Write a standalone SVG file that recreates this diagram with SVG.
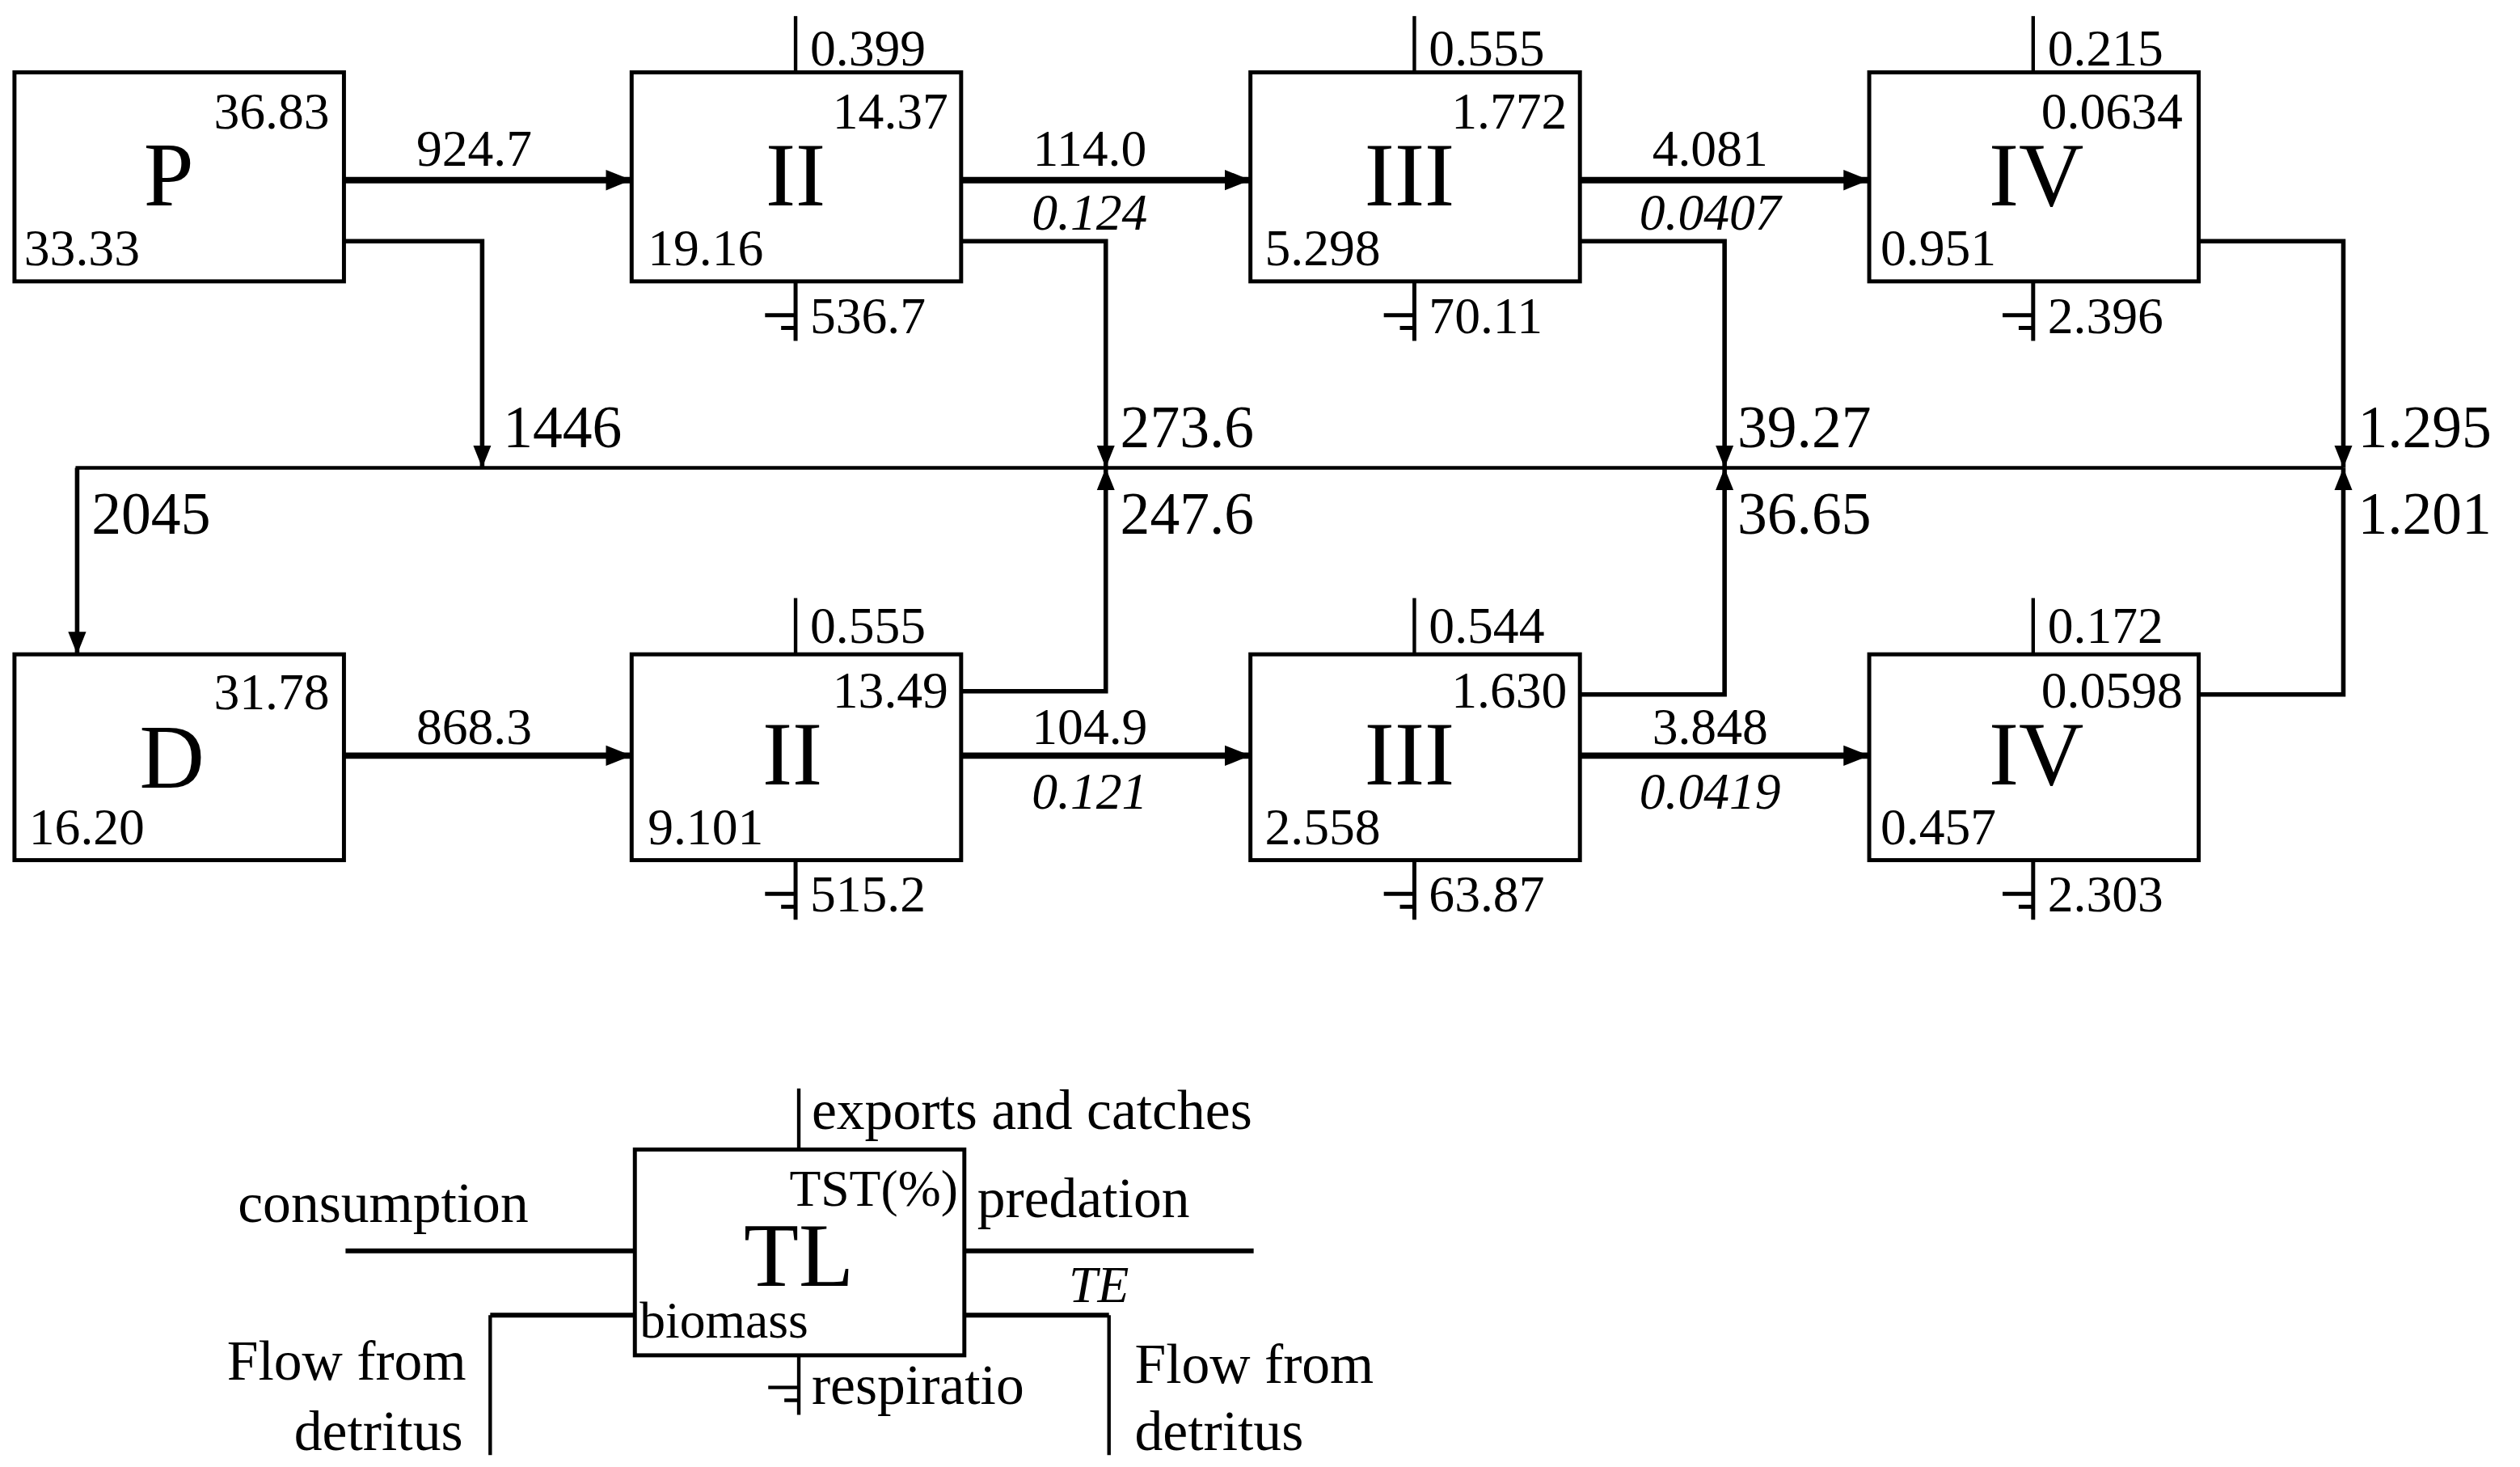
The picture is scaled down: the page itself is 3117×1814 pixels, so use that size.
<svg xmlns="http://www.w3.org/2000/svg" width="3117" height="1814" viewBox="0 0 3117 1814">
<defs>
<marker id="ah" viewBox="0 0 10 10" refX="10" refY="5" markerWidth="4" markerHeight="4" orient="auto" markerUnits="strokeWidth"><path d="M0,1 L10,5 L0,9 z" fill="#000"/></marker>
<marker id="ah2" viewBox="0 0 10 10" refX="10" refY="5" markerWidth="5" markerHeight="6" orient="auto" markerUnits="strokeWidth"><path d="M0,1 L10,5 L0,9 z" fill="#000"/></marker>
</defs>
<style>
text{font-family:"Liberation Serif","Times New Roman",serif;fill:#000}
.n{font-size:32px}
.m{font-size:37px}
.b{font-size:56px;text-anchor:middle}
.i{font-style:italic}
.e{text-anchor:end}
.c{text-anchor:middle}
.box{fill:#fff;stroke:#000;stroke-width:2.5}
.th{stroke:#000;stroke-width:4;fill:none}
.tn{stroke:#000;stroke-width:2.2;fill:none}
</style>
<rect width="3117" height="1814" fill="#fff"/>
<g transform="scale(1.988)">
<g id="connectors">
<line class="th" x1="214" y1="112" x2="393" y2="112" marker-end="url(#ah)"/>
<line class="th" x1="598" y1="112" x2="778" y2="112" marker-end="url(#ah)"/>
<line class="th" x1="983" y1="112" x2="1163" y2="112" marker-end="url(#ah)"/>
<line class="th" x1="214" y1="470" x2="393" y2="470" marker-end="url(#ah)"/>
<line class="th" x1="598" y1="470" x2="778" y2="470" marker-end="url(#ah)"/>
<line class="th" x1="983" y1="470" x2="1163" y2="470" marker-end="url(#ah)"/>
<polyline class="th" points="214,150 300,150 300,291" marker-end="url(#ah2)" style="stroke-width:2.8"/>
<polyline class="th" points="598,150 688,150 688,291" marker-end="url(#ah2)" style="stroke-width:2.8"/>
<polyline class="th" points="983,150 1073,150 1073,291" marker-end="url(#ah2)" style="stroke-width:2.8"/>
<polyline class="th" points="1368,150 1458,150 1458,291" marker-end="url(#ah2)" style="stroke-width:2.8"/>
<polyline class="th" points="598,430 688,430 688,291" marker-end="url(#ah2)" style="stroke-width:2.8"/>
<polyline class="th" points="983,432 1073,432 1073,291" marker-end="url(#ah2)" style="stroke-width:2.8"/>
<polyline class="th" points="1368,432 1458,432 1458,291" marker-end="url(#ah2)" style="stroke-width:2.8"/>
<line class="tn" x1="47" y1="291" x2="1458" y2="291"/>
<line class="th" x1="48" y1="291" x2="48" y2="407" marker-end="url(#ah2)" style="stroke-width:2.8"/>
<g id="flowlabels">
<text class="n c" x="295" y="103">924.7</text>
<text class="n c" x="678" y="103">114.0</text>
<text class="n c i" x="678" y="143">0.124</text>
<text class="n c" x="1064" y="103">4.081</text>
<text class="n c i" x="1064" y="143">0.0407</text>
<text class="n c" x="295" y="463">868.3</text>
<text class="n c" x="678" y="463">104.9</text>
<text class="n c i" x="678" y="503">0.121</text>
<text class="n c" x="1064" y="463">3.848</text>
<text class="n c i" x="1064" y="503">0.0419</text>
<text class="m" x="313" y="278">1446</text>
<text class="m" x="57" y="332">2045</text>
<text class="m" x="697" y="278">273.6</text>
<text class="m" x="697" y="332">247.6</text>
<text class="m" x="1081" y="278">39.27</text>
<text class="m" x="1081" y="332">36.65</text>
<text class="m" x="1467" y="278">1.295</text>
<text class="m" x="1467" y="332">1.201</text>
</g>
</g>
<g id="P"><rect class="box" x="9" y="45" width="205" height="130"/><text class="b" x="105" y="128">P</text><text class="n e" x="205" y="80">36.83</text><text class="n" x="15" y="165">33.33</text></g>
<g id="D"><rect class="box" x="9" y="407" width="205" height="128"/><text class="b" x="107" y="490">D</text><text class="n e" x="205" y="441">31.78</text><text class="n" x="18" y="525">16.20</text></g>
<g id="II_top"><rect class="box" x="393" y="45" width="205" height="130"/><text class="b" x="495" y="128">II</text><text class="n e" x="590" y="80">14.37</text><text class="n" x="403" y="165">19.16</text></g>
<g id="III_top"><rect class="box" x="778" y="45" width="205" height="130"/><text class="b" x="877" y="128">III</text><text class="n e" x="975" y="80">1.772</text><text class="n" x="787" y="165">5.298</text></g>
<g id="IV_top"><rect class="box" x="1163" y="45" width="205" height="130"/><text class="b" x="1267" y="128">IV</text><text class="n e" x="1358" y="80">0.0634</text><text class="n" x="1170" y="165">0.951</text></g>
<g id="II_bot"><rect class="box" x="393" y="407" width="205" height="128"/><text class="b" x="493" y="488">II</text><text class="n e" x="590" y="440">13.49</text><text class="n" x="403" y="525">9.101</text></g>
<g id="III_bot"><rect class="box" x="778" y="407" width="205" height="128"/><text class="b" x="877" y="488">III</text><text class="n e" x="975" y="440">1.630</text><text class="n" x="787" y="525">2.558</text></g>
<g id="IV_bot"><rect class="box" x="1163" y="407" width="205" height="128"/><text class="b" x="1267" y="488">IV</text><text class="n e" x="1358" y="440">0.0598</text><text class="n" x="1170" y="525">0.457</text></g>
<g id="exports">
<g class="tn">
<line x1="495" y1="10" x2="495" y2="45"/><line x1="880" y1="10" x2="880" y2="45"/><line x1="1265" y1="10" x2="1265" y2="45"/>
<line x1="495" y1="372" x2="495" y2="407"/><line x1="880" y1="372" x2="880" y2="407"/><line x1="1265" y1="372" x2="1265" y2="407"/>
</g>
<text class="n" x="504" y="41">0.399</text><text class="n" x="889" y="41">0.555</text><text class="n" x="1274" y="41">0.215</text>
<text class="n" x="504" y="400">0.555</text><text class="n" x="889" y="400">0.544</text><text class="n" x="1274" y="400">0.172</text>
</g>
<g id="respiration">
<path class="tn" d="M495,175V212M476,196H495M486,204H495M880,175V212M861,196H880M871,204H880M1265,175V212M1246,196H1265M1256,204H1265M495,535V572M476,556H495M486,564H495M880,535V572M861,556H880M871,564H880M1265,535V572M1246,556H1265M1256,564H1265" style="stroke-width:2.5"/>
<text class="n" x="504" y="207">536.7</text><text class="n" x="889" y="207">70.11</text><text class="n" x="1274" y="207">2.396</text>
<text class="n" x="504" y="567">515.2</text><text class="n" x="889" y="567">63.87</text><text class="n" x="1274" y="567">2.303</text>
</g>
<g id="legend">
<rect class="box" x="395" y="715" width="205" height="128"/>
<path class="tn" d="M497,677V715M497,843V880M478,863H497M488,871H497M305,818V905M690,818V905"/>
<path class="th" d="M215,778H395M600,778H780M305,818H395M600,818H690" style="stroke-width:3"/>
<text class="n" x="505" y="702" style="font-size:35px">exports and catches</text>
<text class="n" x="148" y="760" style="font-size:35px">consumption</text>
<text class="n" x="608" y="757" style="font-size:35px">predation</text>
<text class="n i" x="665" y="810">TE</text>
<text class="n e" x="596" y="750">TST(%)</text>
<text class="b" x="497" y="800">TL</text>
<text class="n" x="398" y="832">biomass</text>
<text class="n" x="505" y="873" style="font-size:35px">respiratio</text>
<text class="n e" x="290" y="858" style="font-size:35px">Flow from</text>
<text class="n e" x="288" y="902" style="font-size:35px">detritus</text>
<text class="n" x="706" y="860" style="font-size:35px">Flow from</text>
<text class="n" x="706" y="902" style="font-size:35px">detritus</text>
</g>
</g>
</svg>
